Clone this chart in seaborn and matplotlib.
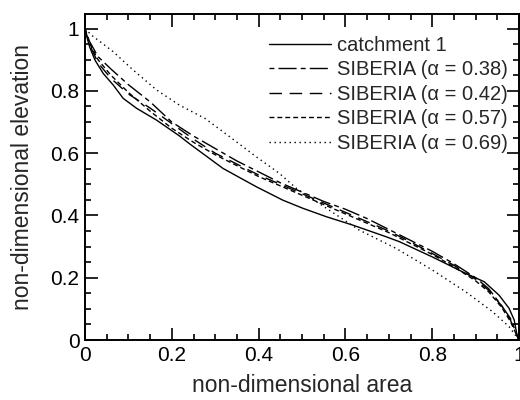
import matplotlib
matplotlib.use("Agg")
import matplotlib.pyplot as plt
import seaborn as sns
import pandas as pd
from matplotlib.ticker import MultipleLocator, FuncFormatter

sns.set_style("ticks")
plt.rcParams['font.family'] = ['Liberation Sans', 'DejaVu Sans']

# catchment 1 (solid)
area_c1 = [0.0, 0.011, 0.023, 0.042, 0.065, 0.088, 0.119, 0.165, 0.218, 0.241, 0.318,
           0.395, 0.456, 0.502, 0.556, 0.617, 0.693, 0.724, 0.80, 0.877, 0.92, 0.954,
           0.977, 0.989, 0.996, 1.0]
elev_c1 = [0.995, 0.94, 0.899, 0.856, 0.819, 0.776, 0.744, 0.706, 0.655, 0.630, 0.551,
           0.492, 0.449, 0.423, 0.396, 0.369, 0.332, 0.316, 0.267, 0.214, 0.187, 0.144,
           0.102, 0.064, 0.011, 0.0]

area_s = [0.0, 0.01, 0.03, 0.06, 0.1, 0.15, 0.2, 0.25, 0.3, 0.35, 0.4, 0.45, 0.5, 0.55,
          0.6, 0.65, 0.7, 0.75, 0.8, 0.85, 0.9, 0.93, 0.96, 0.98, 1.0]
elev_038 = [1.0, 0.96, 0.91, 0.87, 0.82, 0.765, 0.70, 0.655, 0.615, 0.575, 0.54, 0.505,
            0.475, 0.445, 0.42, 0.39, 0.355, 0.32, 0.285, 0.245, 0.20, 0.165, 0.11, 0.07, 0.0]
elev_042 = [1.0, 0.95, 0.89, 0.84, 0.79, 0.745, 0.695, 0.645, 0.60, 0.565, 0.53, 0.50,
            0.47, 0.44, 0.41, 0.38, 0.35, 0.315, 0.278, 0.24, 0.195, 0.16, 0.11, 0.065, 0.0]
elev_057 = [1.0, 0.955, 0.90, 0.85, 0.795, 0.735, 0.68, 0.635, 0.595, 0.56, 0.525, 0.495,
            0.465, 0.435, 0.405, 0.375, 0.345, 0.31, 0.275, 0.235, 0.19, 0.155, 0.105, 0.06, 0.0]

area_069 = [0.0, 0.015, 0.065, 0.111, 0.165, 0.218, 0.276, 0.318, 0.395, 0.448, 0.487,
            0.632, 0.717, 0.80, 0.877, 0.939, 0.977, 1.0]
elev_069 = [1.0, 0.979, 0.926, 0.867, 0.803, 0.754, 0.712, 0.669, 0.588, 0.535, 0.487,
            0.353, 0.294, 0.225, 0.155, 0.091, 0.043, 0.0]

labels = ["catchment 1", "SIBERIA (α = 0.38)", "SIBERIA (α = 0.42)",
          "SIBERIA (α = 0.57)", "SIBERIA (α = 0.69)"]

fig = plt.figure(figsize=(5.2, 4.0), dpi=100)
ax = fig.add_axes([85/520, 60/400, 434/520, 326/400])

series = [
    (area_c1, elev_c1, labels[0], '-'),
    (area_s, elev_038, labels[1], (0, (3.5, 3, 13, 3))),
    (area_s, elev_042, labels[2], (0, (9, 5.5))),
    (area_s, elev_057, labels[3], (0, (3.5, 2.2))),
    (area_069, elev_069, labels[4], (0, (1, 2.6))),
]
for xs, ys, lab, ls in series:
    df = pd.DataFrame({"area": xs, "elev": ys})
    sns.lineplot(data=df, x="area", y="elev", ax=ax, color="black", linewidth=1.0,
                 linestyle=ls, label=lab, estimator=None, sort=False)

ax.set_xlim(0, 1)
ax.set_ylim(0, 1.047)
ax.xaxis.set_major_locator(MultipleLocator(0.2))
ax.xaxis.set_minor_locator(MultipleLocator(0.05))
ax.yaxis.set_major_locator(MultipleLocator(0.2))
ax.yaxis.set_minor_locator(MultipleLocator(0.05))
fmt = FuncFormatter(lambda v, p: "%g" % round(v, 2))
ax.xaxis.set_major_formatter(fmt)
ax.yaxis.set_major_formatter(fmt)
ax.tick_params(which="both", direction="in", top=True, right=True, labelsize=15,
               width=1.2, color="black", labelcolor="black")
ax.tick_params(which="major", length=9, pad=4)
ax.tick_params(which="minor", length=4.5)
for s in ax.spines.values():
    s.set_linewidth(1.4)
    s.set_color("black")

ax.set_xlabel("non-dimensional area", fontsize=16.5, labelpad=7)
ax.set_ylabel("non-dimensional elevation", fontsize=16.5, labelpad=12)

leg = ax.legend(loc="upper right", bbox_to_anchor=(0.975, 0.933), frameon=False,
                fontsize=14.5, handlelength=3.1, handletextpad=0.3, labelspacing=0.27,
                borderaxespad=0, borderpad=0)

fig.savefig("out.png", dpi=100)
